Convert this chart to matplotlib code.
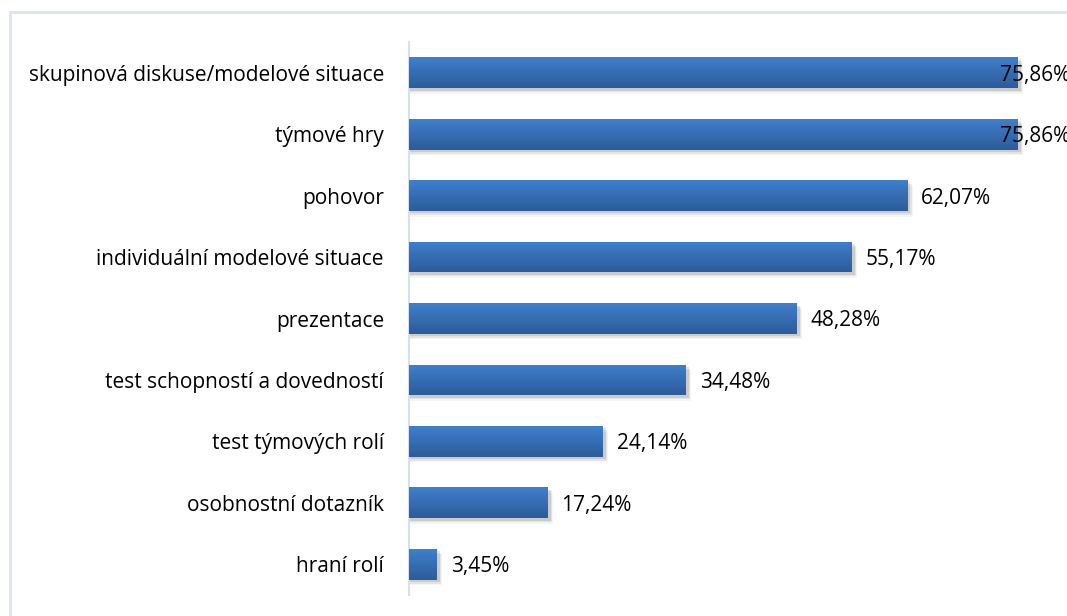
import matplotlib.pyplot as plt
import matplotlib.colors as mcolors
from matplotlib.patches import Rectangle
import numpy as np

# ─── Data ─────────────────────────────────────────────────────────────────────
categories = [
    "skupinová diskuse/modelové situace",
    "týmové hry",
    "pohovor",
    "individuální modelové situace",
    "prezentace",
    "test schopností a dovedností",
    "test týmových rolí",
    "osobnostní dotazník",
    "hraní rolí",
]
values = [75.86, 75.86, 62.07, 55.17, 48.28, 34.48, 24.14, 17.24, 3.45]

# ─── Style ────────────────────────────────────────────────────────────────────
DPI = 100
W, H = 1067, 616
BAR_TOP = "#3f7fcc"
BAR_BOT = "#2c5c9a"
FRAME = "#dbe6f4"
AXIS = "#d5e1f0"
FONT = "Open Sans"
FS = 15

plt.rcParams["font.family"] = [FONT, "DejaVu Sans"]

fig = plt.figure(figsize=(W / DPI, H / DPI), dpi=DPI)
fig.patch.set_facecolor("white")

# outer chart frame (runs off the right and bottom edges)
frame = Rectangle((10 / W, -0.05), 1.2, 1 - 12 / H + 0.05,
                  transform=fig.transFigure, facecolor="none",
                  edgecolor=FRAME, lw=2.2)
fig.patches.append(frame)

ax = fig.add_axes([409 / W, 21 / H, 642 / W, 553 / H])
XMAX = 80
ax.set_xlim(0, XMAX)
ax.set_ylim(len(categories) - 0.5, -0.5)

y = np.arange(len(categories))
bars = ax.barh(y, values, height=0.5, color=BAR_TOP, zorder=3)

# vertical gradient on each bar plus a soft drop shadow
grad = np.linspace(0, 1, 64).reshape(-1, 1)
cmap = mcolors.LinearSegmentedColormap.from_list("bar", [BAR_TOP, BAR_BOT])
for b in bars:
    x0, y0 = b.get_x(), b.get_y()
    w, h = b.get_width(), b.get_height()
    for k, a in enumerate([0.10, 0.07, 0.04]):
        off = 0.04 + k * 0.025
        ax.add_patch(Rectangle((x0 + 0.15, y0 + off), w + 0.25 + k * 0.15, h,
                               facecolor="black", alpha=a, lw=0, zorder=2))
    im = ax.imshow(grad, extent=(x0, x0 + w, y0 + h, y0), cmap=cmap,
                   origin="upper", aspect="auto", zorder=4,
                   interpolation="bilinear")
    im.set_clip_path(b)
ax.set_xlim(0, XMAX)
ax.set_ylim(len(categories) - 0.5, -0.5)

# value labels; the longest ones get pulled back over the bar end
LABEL_MAX = 73.6
for yi, v in zip(y, values):
    ax.text(min(v + 1.75, LABEL_MAX), yi + 0.04, f"{v:.2f}%".replace(".", ","),
            va="center", ha="left", fontsize=FS, color="black", zorder=5)

ax.set_yticks(y)
ax.set_yticklabels(categories, fontsize=FS)
ax.tick_params(axis="y", length=0, pad=18)
ax.set_xticks([])
for s in ["top", "right", "bottom"]:
    ax.spines[s].set_visible(False)
ax.spines["left"].set_color(AXIS)
ax.spines["left"].set_linewidth(1.5)
ax.set_facecolor("none")

fig.savefig("out.png", dpi=DPI, facecolor="white")
